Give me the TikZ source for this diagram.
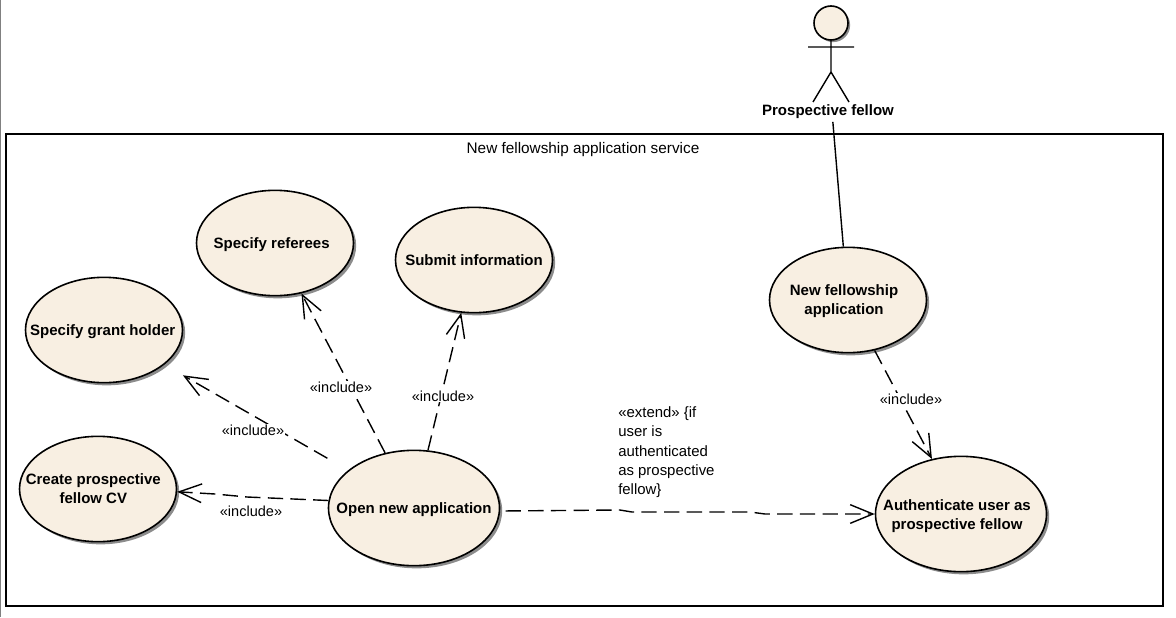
\documentclass[tikz,border=0pt]{standalone}
\usepackage{fontspec}
\setmainfont{Liberation Sans}
\usetikzlibrary{arrows.meta,shapes.geometric,shadows}
\definecolor{usefill}{HTML}{F8EFE2}
\tikzset{
usecase/.style = {ellipse, draw, line width = 1.2pt, fill = usefill, inner xsep = -35 pt, inner ysep = 0 pt, align = center,
  font = \bfseries\fontsize{11.25}{14.4}\selectfont,
  drop shadow = {shadow xshift = 2pt, shadow yshift = -2pt, fill = black!45, opacity = 1}},
smallcase/.style = {usecase, minimum width = 117.75 pt, minimum height = 79 pt},
bigcase/.style = {usecase, minimum width = 128.25 pt, minimum height = 86.5 pt},
dep/.style = {line width = 1.05pt, dash pattern = on 11.5pt off 5.5pt,
  -{Straight Barb[length = 17pt, width = 14pt]}},
assoc/.style = {line width = 1.05pt},
incl/.style = {font = \fontsize{10.9}{13}\selectfont, fill = white, inner sep = 0.6 pt}
}
\begin{document}
\begin{tikzpicture}[x = 0.75 pt, y = -0.75 pt]
\useasboundingbox (0,0) rectangle (1176,617);
\draw [black!50, line width = 1.1pt] (0.5,0) -- (0.5,617);
\draw [line width = 1.2pt] (6,134) rectangle (1163,606);
\node [font = \fontsize{11.5}{14}\selectfont] (title) at (583,150) {New fellowship application service};

% use cases
\node [smallcase] (referees) at (275,243) {\rule{0pt}{10pt}Specify referees\hspace*{5pt}};
\node [smallcase] (submit) at (474,260) {Submit information};
\node [smallcase] (grant) at (104,330) {\rule{0pt}{10pt}Specify grant holder\hspace*{2pt}};
\node [smallcase] (create) at (98,489) {Create prospective\hspace*{7pt}\\fellow CV\hspace*{7pt}};
\node [bigcase] (open) at (414,508) {\rule{0pt}{10pt}Open new application};
\node [smallcase] (newapp) at (848,300) {\rule{0pt}{10pt}New fellowship\hspace*{6pt}\\application\hspace*{6pt}};
\node [bigcase] (auth) at (961,514) {\rule{0pt}{11pt}Authenticate user as\hspace*{6pt}\\prospective fellow\hspace*{6pt}};

% actor
\node [circle, draw, line width = 1.2pt, fill = usefill, minimum size = 25.5 pt, inner sep = 0 pt,
  drop shadow = {shadow xshift = 1.6pt, shadow yshift = -1.6pt, fill = black!45, opacity = 1}] (head) at (831,23) {};
\coordinate (hip) at (831,72);
\coordinate (handl) at (808,47);
\coordinate (handr) at (854,47);
\coordinate (footl) at (813,102);
\coordinate (footr) at (849,102);
\draw [assoc] (head.south) -- (hip) -- (footl) (hip) -- (footr) (handl) -- (handr);
\node [font = \bfseries\fontsize{11.25}{13}\selectfont, inner sep = 2 pt] (fellow) at (828,112) {Prospective fellow};

% connectors
\draw [assoc] (fellow.-64) -- (newapp.95);
\path [dep]
(open) edge (referees)
(open) edge (submit)
(open) edge [shorten < = 18pt, shorten > = 16pt] (grant)
(newapp) edge (auth);
\coordinate (cra) at (247,497);
\coordinate (crb) at (215,494);
\draw [dep] (open.175) -- (cra) -- (crb) -- (create.-2);
\coordinate (exa) at (620,510);
\coordinate (exb) at (632,512);
\coordinate (exc) at (750,512);
\coordinate (exd) at (765,514);
\draw [dep, shorten < = 4pt] (open.-2) -- (exa) -- (exb) -- (exc) -- (exd) -- (auth.west);

% labels
\node [incl] (lblreferees) at (341,387) {«include»};
\node [incl] (lblsubmit) at (443,396) {«include»};
\node [incl] (lblgrant) at (253,430) {«include»};
\node [incl] (lblcreate) at (251,511) {«include»};
\node [incl] (lblauth) at (911,399) {«include»};
\node [font = \fontsize{11.2}{14.6}\selectfont, align = left, anchor = north west, inner sep = 0 pt] (lblextend) at (618,406)
{«extend» \{if\\user is\\authenticated\\as prospective\\fellow\}};
\end{tikzpicture}
\end{document}
